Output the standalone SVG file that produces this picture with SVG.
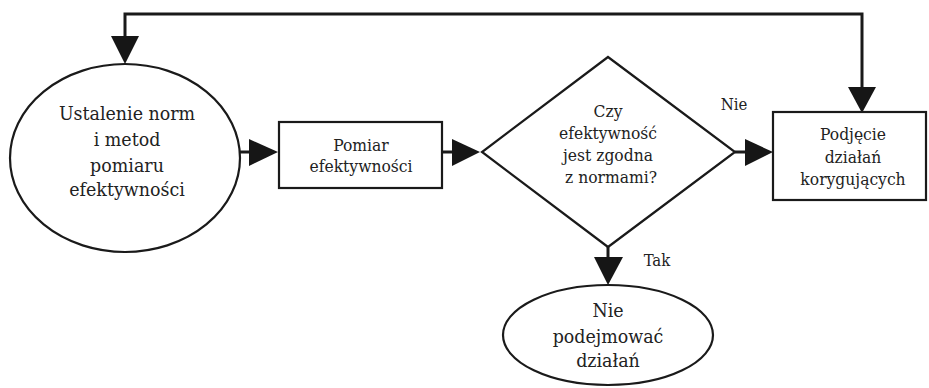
<svg xmlns="http://www.w3.org/2000/svg" width="929" height="388" viewBox="0 0 929 388">
<style>
.shape{fill:#fff;stroke:#1a1a1a;stroke-width:2.2}
.line{fill:none;stroke:#1a1a1a;stroke-width:3}
.ah{fill:#161616;stroke:none}
text{fill:#222;text-anchor:middle}
.t20{font-size:19.4px}
.t18{font-size:17.3px}
.t17{font-size:16.6px}
</style>
<rect width="929" height="388" fill="#fff"/>
<g font-family="DejaVu Serif Condensed, DejaVu Serif, serif">
<g id="connectors">
<polyline class="line" points="125,37 125,14 862,14 862,88"/>
<polygon class="ah" points="111,36 139,36 125,64"/>
<polygon class="ah" points="848,87 876,87 862,113"/>
<line class="line" x1="240" y1="152" x2="250" y2="152"/>
<polygon class="ah" points="249,139 249,166 278,152"/>
<line class="line" x1="442" y1="152" x2="453" y2="152"/>
<polygon class="ah" points="452,139 452,166 480,152"/>
<line class="line" x1="735" y1="152" x2="746" y2="152"/>
<polygon class="ah" points="745,139 745,166 773,152"/>
<line class="line" x1="608" y1="247" x2="608" y2="258"/>
<polygon class="ah" points="594,257 623,257 608,285"/>
<text class="t17" x="734" y="110">Nie</text>
<text class="t17" x="657" y="266">Tak</text>
</g>
<g id="n1">
<ellipse class="shape" cx="125" cy="158" rx="115" ry="94"/>
<text class="t20" x="127" y="120">Ustalenie norm</text>
<text class="t20" x="127" y="146">i metod</text>
<text class="t20" x="127" y="172">pomiaru</text>
<text class="t20" x="127" y="196">efektywności</text>
</g>
<g id="n2">
<rect class="shape" x="279" y="122" width="163" height="66"/>
<text class="t18" x="361" y="151">Pomiar</text>
<text class="t18" x="361" y="172">efektywności</text>
</g>
<g id="n3">
<polygon class="shape" points="608,57 735,152 608,247 482,152"/>
<text class="t18" x="608" y="117">Czy</text>
<text class="t18" x="608" y="139">efektywność</text>
<text class="t18" x="608" y="161">jest zgodna</text>
<text class="t18" x="611" y="183">z  normami?</text>
</g>
<g id="n4">
<rect class="shape" x="773" y="112" width="153" height="88"/>
<text class="t18" x="853" y="140">Podjęcie</text>
<text class="t18" x="853" y="163">działań</text>
<text class="t18" x="853" y="185">korygujących</text>
</g>
<g id="n5">
<ellipse class="shape" cx="608" cy="335" rx="105" ry="50"/>
<text class="t20" x="608" y="317">Nie</text>
<text class="t20" x="608" y="343">podejmować</text>
<text class="t20" x="608" y="367">działań</text>
</g>
</g>
</svg>
